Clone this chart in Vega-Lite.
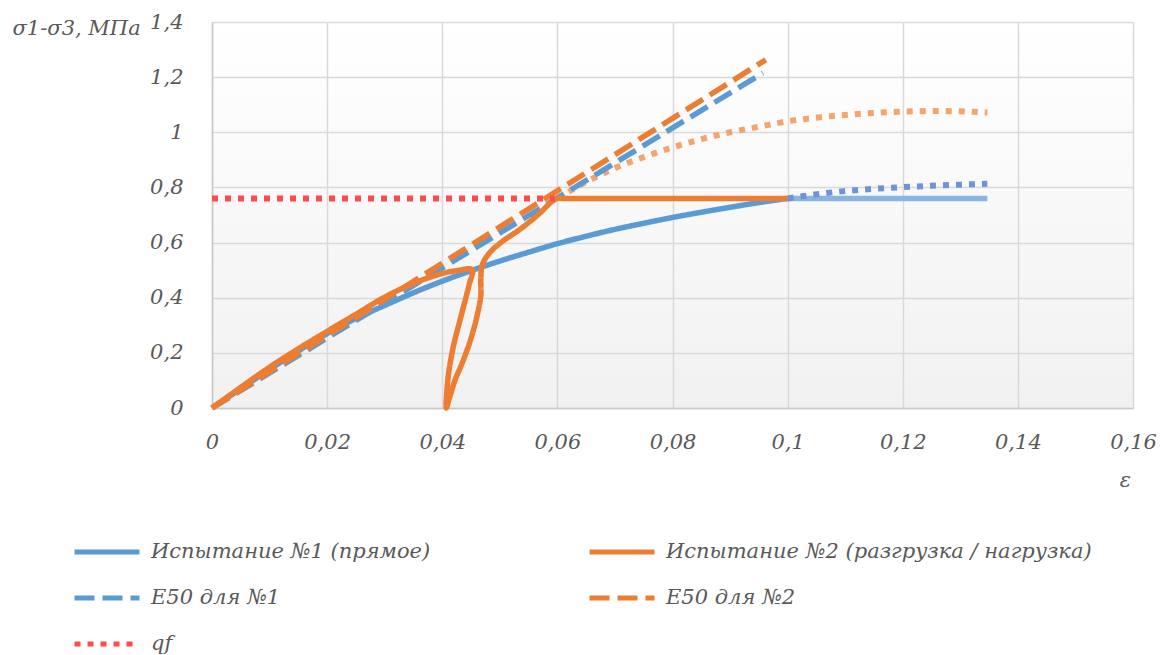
{
  "$schema": "https://vega.github.io/schema/vega-lite/v6.json",
  "width": 921,
  "height": 386,
  "autosize": {"type": "none"},
  "padding": {"left": 212, "top": 22, "right": 34, "bottom": 247},
  "background": "white",
  "config": {
    "view": {"stroke": null, "fill": {"gradient": "linear", "x1": 0, "y1": 0, "x2": 0, "y2": 1, "stops": [{"offset": 0, "color": "#ffffff"}, {"offset": 1, "color": "#f1f1f1"}]}},
    "font": "DejaVu Serif",
    "axis": {
      "grid": true,
      "gridColor": "#d9d9d9",
      "gridWidth": 1.5,
      "ticks": false,
      "domainColor": "#c8c8c8",
      "domainWidth": 1.5,
      "labelFont": "DejaVu Serif",
      "labelFontStyle": "italic",
      "labelFontSize": 21,
      "labelColor": "#595959",
      "titleFont": "DejaVu Serif",
      "titleFontStyle": "italic",
      "titleFontWeight": "normal",
      "titleFontSize": 21,
      "titleColor": "#595959",
      "labelFlush": false,
      "labelOverlap": false
    }
  },
  "data": {
    "values": [
      {"s": "Испытание №1 (прямое)", "x": 0, "y": 0},
      {"s": "Испытание №1 (прямое)", "x": 0.005, "y": 0.07},
      {"s": "Испытание №1 (прямое)", "x": 0.01, "y": 0.14},
      {"s": "Испытание №1 (прямое)", "x": 0.015, "y": 0.207},
      {"s": "Испытание №1 (прямое)", "x": 0.02, "y": 0.27},
      {"s": "Испытание №1 (прямое)", "x": 0.025, "y": 0.325},
      {"s": "Испытание №1 (прямое)", "x": 0.03, "y": 0.372},
      {"s": "Испытание №1 (прямое)", "x": 0.035, "y": 0.418},
      {"s": "Испытание №1 (прямое)", "x": 0.04, "y": 0.46},
      {"s": "Испытание №1 (прямое)", "x": 0.045, "y": 0.498},
      {"s": "Испытание №1 (прямое)", "x": 0.05, "y": 0.533},
      {"s": "Испытание №1 (прямое)", "x": 0.055, "y": 0.565},
      {"s": "Испытание №1 (прямое)", "x": 0.06, "y": 0.596},
      {"s": "Испытание №1 (прямое)", "x": 0.065, "y": 0.623},
      {"s": "Испытание №1 (прямое)", "x": 0.07, "y": 0.648},
      {"s": "Испытание №1 (прямое)", "x": 0.075, "y": 0.67},
      {"s": "Испытание №1 (прямое)", "x": 0.08, "y": 0.691},
      {"s": "Испытание №1 (прямое)", "x": 0.085, "y": 0.71},
      {"s": "Испытание №1 (прямое)", "x": 0.09, "y": 0.728},
      {"s": "Испытание №1 (прямое)", "x": 0.095, "y": 0.745},
      {"s": "Испытание №1 (прямое)", "x": 0.1, "y": 0.76},

      {"s": "Испытание №2 (разгрузка / нагрузка)", "x": 0, "y": 0},
      {"s": "Испытание №2 (разгрузка / нагрузка)", "x": 0.005, "y": 0.075},
      {"s": "Испытание №2 (разгрузка / нагрузка)", "x": 0.01, "y": 0.148},
      {"s": "Испытание №2 (разгрузка / нагрузка)", "x": 0.015, "y": 0.215},
      {"s": "Испытание №2 (разгрузка / нагрузка)", "x": 0.02, "y": 0.278},
      {"s": "Испытание №2 (разгрузка / нагрузка)", "x": 0.025, "y": 0.34},
      {"s": "Испытание №2 (разгрузка / нагрузка)", "x": 0.03, "y": 0.402},
      {"s": "Испытание №2 (разгрузка / нагрузка)", "x": 0.035, "y": 0.452},
      {"s": "Испытание №2 (разгрузка / нагрузка)", "x": 0.04, "y": 0.488},
      {"s": "Испытание №2 (разгрузка / нагрузка)", "x": 0.0425, "y": 0.498},
      {"s": "Испытание №2 (разгрузка / нагрузка)", "x": 0.0452, "y": 0.502},
      {"s": "Испытание №2 (разгрузка / нагрузка)", "x": 0.0447, "y": 0.45},
      {"s": "Испытание №2 (разгрузка / нагрузка)", "x": 0.0441, "y": 0.4},
      {"s": "Испытание №2 (разгрузка / нагрузка)", "x": 0.0431, "y": 0.32},
      {"s": "Испытание №2 (разгрузка / нагрузка)", "x": 0.042, "y": 0.23},
      {"s": "Испытание №2 (разгрузка / нагрузка)", "x": 0.0412, "y": 0.14},
      {"s": "Испытание №2 (разгрузка / нагрузка)", "x": 0.0408, "y": 0.06},
      {"s": "Испытание №2 (разгрузка / нагрузка)", "x": 0.0407, "y": 0},
      {"s": "Испытание №2 (разгрузка / нагрузка)", "x": 0.0413, "y": 0.04},
      {"s": "Испытание №2 (разгрузка / нагрузка)", "x": 0.0422, "y": 0.1},
      {"s": "Испытание №2 (разгрузка / нагрузка)", "x": 0.0434, "y": 0.16},
      {"s": "Испытание №2 (разгрузка / нагрузка)", "x": 0.0448, "y": 0.24},
      {"s": "Испытание №2 (разгрузка / нагрузка)", "x": 0.046, "y": 0.33},
      {"s": "Испытание №2 (разгрузка / нагрузка)", "x": 0.0467, "y": 0.41},
      {"s": "Испытание №2 (разгрузка / нагрузка)", "x": 0.0467, "y": 0.47},
      {"s": "Испытание №2 (разгрузка / нагрузка)", "x": 0.047, "y": 0.522},
      {"s": "Испытание №2 (разгрузка / нагрузка)", "x": 0.0484, "y": 0.567},
      {"s": "Испытание №2 (разгрузка / нагрузка)", "x": 0.0505, "y": 0.605},
      {"s": "Испытание №2 (разгрузка / нагрузка)", "x": 0.0535, "y": 0.648},
      {"s": "Испытание №2 (разгрузка / нагрузка)", "x": 0.0567, "y": 0.702},
      {"s": "Испытание №2 (разгрузка / нагрузка)", "x": 0.0598, "y": 0.76},
      {"s": "Испытание №2 (разгрузка / нагрузка)", "x": 0.061, "y": 0.76},
      {"s": "Испытание №2 (разгрузка / нагрузка)", "x": 0.1, "y": 0.76},

      {"s": "E50 для №1", "x": 0, "y": 0},
      {"s": "E50 для №1", "x": 0.0957, "y": 1.215},
      {"s": "E50 для №2", "x": 0, "y": 0},
      {"s": "E50 для №2", "x": 0.0962, "y": 1.263},
      {"s": "qf", "x": 0, "y": 0.76},
      {"s": "qf", "x": 0.0595, "y": 0.76},

      {"s": "ext1", "x": 0.1, "y": 0.76},
      {"s": "ext1", "x": 0.1347, "y": 0.76},

      {"s": "ext1d", "x": 0.1, "y": 0.76},
      {"s": "ext1d", "x": 0.105, "y": 0.775},
      {"s": "ext1d", "x": 0.11, "y": 0.787},
      {"s": "ext1d", "x": 0.115, "y": 0.795},
      {"s": "ext1d", "x": 0.12, "y": 0.801},
      {"s": "ext1d", "x": 0.125, "y": 0.806},
      {"s": "ext1d", "x": 0.13, "y": 0.81},
      {"s": "ext1d", "x": 0.1347, "y": 0.813},

      {"s": "ext2d", "x": 0.06, "y": 0.76},
      {"s": "ext2d", "x": 0.065, "y": 0.82},
      {"s": "ext2d", "x": 0.07, "y": 0.87},
      {"s": "ext2d", "x": 0.075, "y": 0.91},
      {"s": "ext2d", "x": 0.08, "y": 0.945},
      {"s": "ext2d", "x": 0.085, "y": 0.975},
      {"s": "ext2d", "x": 0.09, "y": 1.0},
      {"s": "ext2d", "x": 0.095, "y": 1.02},
      {"s": "ext2d", "x": 0.1, "y": 1.04},
      {"s": "ext2d", "x": 0.105, "y": 1.053},
      {"s": "ext2d", "x": 0.11, "y": 1.063},
      {"s": "ext2d", "x": 0.115, "y": 1.07},
      {"s": "ext2d", "x": 0.12, "y": 1.075},
      {"s": "ext2d", "x": 0.125, "y": 1.077},
      {"s": "ext2d", "x": 0.13, "y": 1.076},
      {"s": "ext2d", "x": 0.1347, "y": 1.072}
    ]
  },
  "encoding": {
    "x": {
      "field": "x", "type": "quantitative",
      "scale": {"domain": [0, 0.16], "nice": false, "zero": false},
      "axis": {
        "values": [0, 0.02, 0.04, 0.06, 0.08, 0.1, 0.12, 0.14, 0.16],
        "labelExpr": "replace(format(datum.value, '.2~f'), '.', ',')",
        "labelPadding": 23,
        "title": "ε",
        "titleAngle": 0,
        "titleX": 913,
        "titleY": 72,
        "titleAlign": "center",
        "titleBaseline": "middle"
      }
    },
    "y": {
      "field": "y", "type": "quantitative",
      "scale": {"domain": [0, 1.4], "nice": false, "zero": false},
      "axis": {
        "values": [0, 0.2, 0.4, 0.6, 0.8, 1, 1.2, 1.4],
        "labelExpr": "replace(format(datum.value, '.1~f'), '.', ',')",
        "labelPadding": 29,
        "title": "σ1-σ3, МПа",
        "titleAngle": 0,
        "titleX": -200,
        "titleY": 12,
        "titleAlign": "left",
        "titleBaseline": "alphabetic"
      }
    }
  },
  "layer": [
    {
      "transform": [{"filter": "datum.s === 'ext2d'"}],
      "mark": {"type": "line", "color": "#f4a46e", "strokeWidth": 6, "strokeDash": [6, 7], "interpolate": "monotone"},
      "encoding": {}
    },
    {
      "transform": [{"filter": "datum.s === 'ext1'"}],
      "mark": {"type": "line", "color": "#8bb5e1", "strokeWidth": 5.5},
      "encoding": {}
    },
    {
      "transform": [{"filter": "datum.s === 'ext1d'"}],
      "mark": {"type": "line", "color": "#6d94d8", "strokeWidth": 6, "strokeDash": [6, 7], "interpolate": "monotone"},
      "encoding": {}
    },
    {
      "transform": [{"filter": "datum.s === 'Испытание №1 (прямое)'"}],
      "mark": {"type": "line", "strokeWidth": 5.5, "interpolate": "monotone", "strokeJoin": "round"},
      "encoding": {"order": {"value": null}, "color": {"field": "s", "type": "nominal"}, "strokeDash": {"field": "s", "type": "nominal"}}
    },
    {
      "transform": [{"filter": "datum.s === 'E50 для №1'"}],
      "mark": {"type": "line", "strokeWidth": 5.5},
      "encoding": {"order": {"value": null}, "color": {"field": "s", "type": "nominal"}, "strokeDash": {"field": "s", "type": "nominal"}}
    },
    {
      "transform": [{"filter": "datum.s === 'Испытание №2 (разгрузка / нагрузка)'"}],
      "mark": {"type": "line", "strokeWidth": 5.5, "strokeJoin": "round", "interpolate": "catmull-rom"},
      "encoding": {"order": {"value": null}, "color": {"field": "s", "type": "nominal"}, "strokeDash": {"field": "s", "type": "nominal"}}
    },
    {
      "transform": [{"filter": "datum.s === 'E50 для №2'"}],
      "mark": {"type": "line", "strokeWidth": 5.5},
      "encoding": {"order": {"value": null}, "color": {"field": "s", "type": "nominal"}, "strokeDash": {"field": "s", "type": "nominal"}}
    },
    {
      "transform": [{"filter": "datum.s === 'qf'"}],
      "mark": {"type": "line", "strokeWidth": 6},
      "encoding": {
        "order": {"value": null},
        "color": {
          "field": "s", "type": "nominal",
          "scale": {
            "domain": ["Испытание №1 (прямое)", "Испытание №2 (разгрузка / нагрузка)", "E50 для №1", "E50 для №2", "qf"],
            "range": ["#5b9bd5", "#ed7d31", "#5b9bd5", "#ed7d31", "#ff4b4b"]
          },
          "legend": {
            "orient": "none",
            "legendX": -140,
            "legendY": 495,
            "direction": "horizontal",
            "columns": 2,
            "title": null,
            "padding": 0,
            "symbolType": "stroke",
            "symbolSize": 4225,
            "symbolStrokeWidth": 5,
            "labelFont": "DejaVu Serif",
            "labelFontStyle": "italic",
            "labelFontSize": 21,
            "labelColor": "#595959",
            "labelOffset": 9,
            "labelLimit": 700,
            "columnPadding": 148,
            "rowPadding": 1
          }
        },
        "strokeDash": {
          "field": "s", "type": "nominal",
          "scale": {
            "domain": ["Испытание №1 (прямое)", "Испытание №2 (разгрузка / нагрузка)", "E50 для №1", "E50 для №2", "qf"],
            "range": [[1, 0], [1, 0], [20, 8], [20, 8], [6, 7]]
          },
          "legend": {
            "orient": "none",
            "legendX": -140,
            "legendY": 495,
            "direction": "horizontal",
            "columns": 2,
            "title": null,
            "padding": 0,
            "symbolType": "stroke",
            "symbolSize": 4225,
            "symbolStrokeWidth": 5,
            "labelFont": "DejaVu Serif",
            "labelFontStyle": "italic",
            "labelFontSize": 21,
            "labelColor": "#595959",
            "labelOffset": 9,
            "labelLimit": 700,
            "columnPadding": 148,
            "rowPadding": 1
          }
        }
      }
    }
  ]
}
